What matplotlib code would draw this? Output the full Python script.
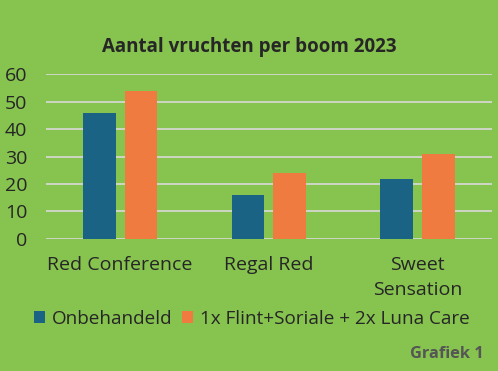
import numpy as np
import matplotlib.pyplot as plt

# data
rassen = ['Red Conference', 'Regal Red', 'Sweet\nSensation']
onbehandeld = [46, 16, 22]
behandeld = [54, 24, 31]
reeksen = ['Onbehandeld', '1x Flint+Soriale + 2x Luna Care']

groen = '#86C34F'
blauw = '#1A6385'
oranje = '#F07B41'
tekst = '#262626'

plt.rcParams['font.family'] = ['Open Sans', 'DejaVu Sans']

fig = plt.figure(figsize=(4.98, 3.71), dpi=100, facecolor=groen)
ax = fig.add_axes([0.092, 0.356, 0.896, 0.444])
ax.set_facecolor(groen)

x = np.arange(len(rassen))
w = 0.22
ax.bar(x - 0.14, onbehandeld, w, color=blauw, label=reeksen[0], zorder=3)
ax.bar(x + 0.14, behandeld, w, color=oranje, label=reeksen[1], zorder=3)

ax.set_ylim(0, 60)
ax.set_xlim(-0.5, 2.5)
ax.set_yticks(range(0, 61, 10))
ax.set_xticks(x)
ax.set_xticklabels(rassen, linespacing=1.5)
ax.yaxis.grid(True, color='#D9D9D9', linewidth=1.2, zorder=0)
ax.tick_params(length=0, labelsize=14, labelcolor=tekst)
ax.tick_params(axis='y', pad=13.5)
ax.tick_params(axis='x', pad=12)
for s in ax.spines.values():
    s.set_visible(False)

fig.text(0.5, 0.873, 'Aantal vruchten per boom 2023', ha='center', va='center',
         fontsize=13.5, fontweight='bold', color=tekst)

fig.legend(loc='center', bbox_to_anchor=(0.505, 0.14), ncol=2, frameon=False,
           fontsize=13.6, handlelength=0.6, handleheight=0.6, handletextpad=0.35,
           columnspacing=0.5, labelcolor=tekst)

fig.text(0.972, 0.046, 'Grafiek 1', ha='right', va='center', fontsize=11.8,
         fontweight='bold', color='#555555')

fig.savefig('out.png', dpi=100, facecolor=groen)
